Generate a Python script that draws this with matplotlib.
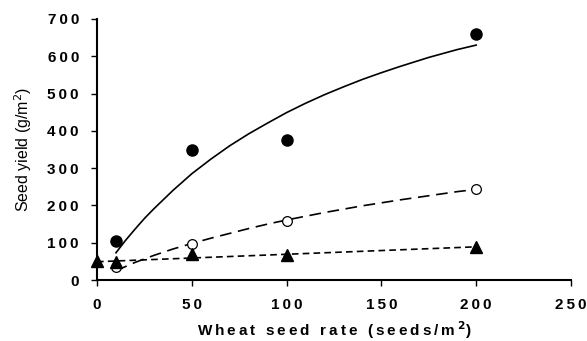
import matplotlib
matplotlib.use("Agg")
import matplotlib.pyplot as plt

plt.rcParams['font.family'] = ['Liberation Sans', 'DejaVu Sans']

# measured points
rate_high = [10, 50, 100, 200]
yield_high = [105, 348, 375, 660]
rate_mid = [10, 50, 100, 200]
yield_mid = [34, 96, 158, 243]
rate_low = [0, 10, 50, 100, 200]
yield_low = [51, 48, 70, 66, 89]

# fitted curves
fit_x_high = [10, 15, 20, 25, 30, 40, 50, 60, 70, 80, 90, 100, 110, 120, 130, 140, 150, 160, 175, 190, 200]
fit_y_high = [73, 106, 136, 165, 191, 240, 285, 324, 360, 392, 421, 449, 474, 497, 518, 538, 556, 573, 597, 618, 630]
fit_x_mid = [10, 20, 30, 40, 50, 60, 70, 80, 90, 100, 110, 120, 130, 140, 150, 160, 175, 190, 200]
fit_y_mid = [25, 47, 66, 83, 98, 112, 125, 138, 150, 161, 171, 181, 190, 199, 207, 215, 226, 237, 243]
fit_x_low = [0, 200]
fit_y_low = [49, 89]

xticks = [0, 50, 100, 150, 200, 250]
yticks = [0, 100, 200, 300, 400, 500, 600, 700]


def spaced(s):
    return '\u2009'.join(s)


fig = plt.figure(figsize=(5.87, 3.41), dpi=100)
ax = fig.add_axes([97 / 587, 61 / 341, 474 / 587, 261 / 341])

ax.plot(fit_x_high, fit_y_high, color='black', lw=1.2)
ax.plot(fit_x_mid, fit_y_mid, color='black', lw=1.2, dashes=(7, 4))
ax.plot(fit_x_low, fit_y_low, color='black', lw=1.2, dashes=(4, 2.5))

ax.plot(rate_high, yield_high, 'o', color='black', ms=8, clip_on=False)
ax.plot(rate_mid, yield_mid, 'o', mfc='white', mec='black', mew=0.9, ms=7, clip_on=False)
ax.plot(rate_low, yield_low, '^', color='black', ms=8.5, clip_on=False)

ax.set_xlim(0, 250)
ax.set_ylim(0, 700)
ax.set_xticks(xticks)
ax.set_yticks(yticks)
ax.set_xticklabels([spaced(str(t)) for t in xticks], fontweight='bold', fontsize=11)
ax.set_yticklabels([spaced(str(t)) for t in yticks], fontweight='bold', fontsize=11)
ax.tick_params(direction='out', length=4, width=1, pad=9, colors='black')

for s in ['top', 'right']:
    ax.spines[s].set_visible(False)
for s in ['left', 'bottom']:
    ax.spines[s].set_linewidth(1.5)

ax.set_xlabel(spaced('Wheat seed rate (seeds/m') + '\u2009$^{\\mathbf{2}}$)', fontweight='bold', fontsize=11, labelpad=5)
ax.set_ylabel('Seed yield (g/m$^{2}$)', fontsize=11.5, labelpad=10)

fig.savefig('out.png', dpi=100)
